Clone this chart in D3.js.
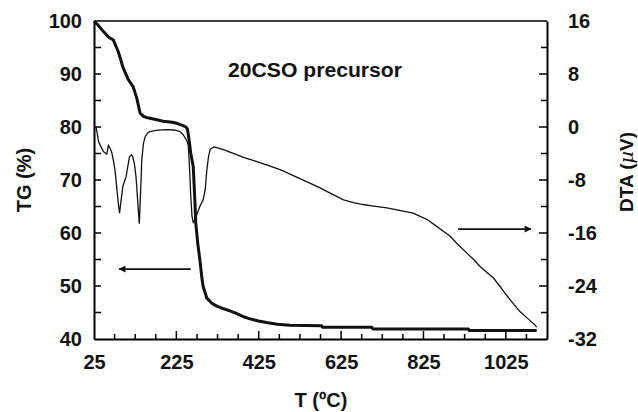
<!DOCTYPE html>
<html>
<head>
<meta charset="utf-8">
<script src="https://cdn.jsdelivr.net/npm/d3@7"></script>
<style>
  html, body { margin: 0; padding: 0; background: #fff; }
  svg { display: block; }
</style>
</head>
<body>
<svg id="canvas"></svg>
<script>
// TG curve (thick), T in ºC, mass in %
const tgTemp = [25, 35, 48, 60, 72, 84, 96, 108, 120, 129, 137, 145, 153, 175, 193, 215, 226, 240, 248, 252, 256, 260, 266, 270, 272, 277, 282, 287, 290, 299, 312, 323, 340, 355, 372, 388, 404, 424, 444, 470, 500, 578, 580, 700, 702, 934, 936, 1100]
const tgValue = [100, 99.2, 98.0, 97.0, 96.4, 94.2, 91.1, 89.0, 87.6, 85.4, 82.6, 82.0, 81.8, 81.4, 81.1, 80.9, 80.7, 80.3, 80.0, 79.6, 77.5, 75, 72.5, 66, 62, 58, 55, 51.5, 49.9, 47.7, 46.7, 46.2, 45.7, 45.3, 44.8, 44.2, 43.8, 43.4, 43.1, 42.8, 42.6, 42.5, 42.2, 42.2, 41.9, 41.9, 41.6, 41.6]

// DTA curve (thin), µV
const dtaTemp = [30, 33, 36, 42, 48, 56, 60, 64, 68, 72, 76, 80, 84, 87, 90, 95, 100, 103, 107, 111, 116, 119, 123, 127, 131, 135, 138, 141, 145, 149, 155, 161, 175, 200, 220, 234, 242, 246, 250, 254, 256, 258, 260, 263, 266, 270, 274, 282, 290, 295, 299, 303, 307, 311, 317, 323, 339, 360, 388, 415, 444, 480, 525, 574, 596, 631, 655, 679, 700, 736, 776, 800, 817, 835, 857, 875, 890, 910, 930, 950, 963, 980, 995, 1010, 1027, 1045, 1060, 1080, 1096, 1100]
const dtaValue = [0, -1.0, -2.2, -3.0, -3.7, -4.1, -2.8, -3.2, -3.8, -5.0, -6.5, -9, -11.5, -13.0, -11.5, -9.0, -8.0, -7.5, -6.0, -4.5, -4.2, -4.5, -5.5, -7.5, -11, -14.6, -10, -5.0, -2.5, -1.5, -0.9, -0.7, -0.5, -0.4, -0.45, -0.7, -1.2, -1.6, -2.0, -2.8, -5, -7.5, -10.5, -13.5, -14.4, -14.0, -13.3, -12.0, -11.0, -9.5, -6.5, -4.5, -3.4, -3.2, -3.0, -3.1, -3.4, -3.9, -4.6, -5.1, -5.7, -6.5, -7.8, -9.2, -9.9, -11.0, -11.4, -11.7, -11.9, -12.2, -12.7, -13.0, -13.5, -14.0, -15.0, -15.8, -16.5, -17.8, -19.0, -20.2, -21.1, -22.0, -22.8, -24.0, -25.4, -26.8, -27.9, -29.0, -29.9, -30.2]

const xMajorTicks = [25, 225, 425, 625, 825, 1025]
const tgTicks = [40, 50, 60, 70, 80, 90, 100]
const dtaTicks = [-32, -24, -16, -8, 0, 8, 16]

let width = 638
let height = 412
const plotLeft = 94, plotRight = 547, plotTop = 21, plotBottom = 339
const font = "'Liberation Sans', Arial, sans-serif"
const plain = d => String(d).replace('\u2212', '-')

const svg = d3.select('#canvas')
    .attr('width', width)
    .attr('height', height)

const xScale = d3.scaleLinear().domain([25, 1125]).range([plotLeft, plotRight])
const tgScale = d3.scaleLinear().domain([40, 100]).range([plotBottom, plotTop])
const dtaScale = d3.scaleLinear().domain([-32, 16]).range([plotBottom, plotTop])

function styleAxis(g) {
    g.attr('font-family', font).attr('font-size', 20).attr('font-weight', 'bold')
    g.select('.domain').attr('stroke', '#000').attr('stroke-width', 2)
    g.selectAll('.tick line').remove()
    g.selectAll('text').attr('fill', '#111')
}

// axes: labels and domain lines from d3, ticks drawn inward below
svg.append('g')
    .attr('id', 'x-axis')
    .attr('transform', 'translate(0,' + plotBottom + ')')
    .call(d3.axisBottom(xScale).tickValues(xMajorTicks).tickSizeInner(0).tickSizeOuter(0).tickPadding(16).tickFormat(plain))
    .call(styleAxis)

svg.append('g')
    .attr('id', 'y-axis')
    .attr('transform', 'translate(' + plotLeft + ',0)')
    .call(d3.axisLeft(tgScale).tickValues(tgTicks).tickSizeInner(0).tickSizeOuter(0).tickPadding(12).tickFormat(plain))
    .call(styleAxis)

svg.append('g')
    .attr('transform', 'translate(' + plotRight + ',0)')
    .call(d3.axisRight(dtaScale).tickValues(dtaTicks).tickSizeInner(0).tickSizeOuter(0).tickPadding(21).tickFormat(plain))
    .call(styleAxis)

// inward ticks
const tickG = svg.append('g').attr('stroke', '#000').attr('stroke-width', 1.5)
const xTicks = d3.range(75, 1125, 50)
tickG.selectAll('.xt').data(xTicks).enter().append('line')
    .attr('x1', d => xScale(d)).attr('x2', d => xScale(d))
    .attr('y1', plotBottom).attr('y2', d => plotBottom - (xMajorTicks.includes(d) ? 8 : 5))
tickG.selectAll('.yt').data(d3.range(45, 100, 5)).enter().append('line')
    .attr('x1', plotLeft).attr('x2', plotLeft + 7)
    .attr('y1', d => tgScale(d)).attr('y2', d => tgScale(d))
tickG.selectAll('.dt').data(d3.range(-28, 16, 4)).enter().append('line')
    .attr('x1', plotRight).attr('x2', d => plotRight - (d % 8 === 0 ? 8 : 6))
    .attr('y1', d => dtaScale(d)).attr('y2', d => dtaScale(d))

// top frame line
svg.append('line')
    .attr('x1', plotLeft).attr('x2', plotRight)
    .attr('y1', plotTop).attr('y2', plotTop)
    .attr('stroke', '#000').attr('stroke-width', 1.5)

// curves
const tgLine = d3.line()
    .x((d, i) => xScale(tgTemp[i]))
    .y(d => tgScale(d))
const dtaLine = d3.line()
    .x((d, i) => xScale(dtaTemp[i]))
    .y(d => dtaScale(d))

svg.append('path')
    .datum(dtaValue)
    .attr('d', dtaLine)
    .attr('fill', 'none')
    .attr('stroke', '#111')
    .attr('stroke-width', 1.3)

svg.append('path')
    .datum(tgValue)
    .attr('d', tgLine)
    .attr('fill', 'none')
    .attr('stroke', '#111')
    .attr('stroke-width', 3)
    .attr('stroke-linejoin', 'round')

// arrows
const defs = svg.append('defs')
defs.append('marker')
    .attr('id', 'head')
    .attr('viewBox', '0 0 10 10')
    .attr('refX', 9).attr('refY', 5)
    .attr('markerWidth', 9).attr('markerHeight', 7)
    .attr('markerUnits', 'userSpaceOnUse')
    .attr('orient', 'auto')
    .append('path')
    .attr('d', 'M0,0 L10,5 L0,10 Z')
    .attr('fill', '#111')

svg.append('line')
    .attr('x1', xScale(260)).attr('x2', xScale(86))
    .attr('y1', tgScale(53.2)).attr('y2', tgScale(53.2))
    .attr('stroke', '#111').attr('stroke-width', 1.8)
    .attr('marker-end', 'url(#head)')

svg.append('line')
    .attr('x1', xScale(909)).attr('x2', xScale(1086))
    .attr('y1', dtaScale(-15.4)).attr('y2', dtaScale(-15.4))
    .attr('stroke', '#111').attr('stroke-width', 1.8)
    .attr('marker-end', 'url(#head)')

// texts
svg.append('text')
    .attr('x', 228).attr('y', 77)
    .attr('font-family', font).attr('font-size', 20).attr('font-weight', 'bold')
    .attr('fill', '#111')
    .attr('textLength', 174).attr('lengthAdjust', 'spacingAndGlyphs')
    .text('20CSO precursor')

svg.append('text')
    .attr('x', 321).attr('y', 407)
    .attr('text-anchor', 'middle')
    .attr('font-family', font).attr('font-size', 20).attr('font-weight', 'bold')
    .attr('fill', '#111')
    .text('T (ºC)')

svg.append('text')
    .attr('transform', 'translate(31,180) rotate(-90)')
    .attr('text-anchor', 'middle')
    .attr('font-family', font).attr('font-size', 20).attr('font-weight', 'bold')
    .attr('fill', '#111')
    .text('TG (%)')

const dtaLabel = svg.append('text')
    .attr('transform', 'translate(633,172) rotate(-90)')
    .attr('text-anchor', 'middle')
    .attr('font-family', font).attr('font-size', 19).attr('font-weight', 'bold')
    .attr('fill', '#111')
dtaLabel.append('tspan').text('DTA (')
dtaLabel.append('tspan').attr('font-weight', 'normal').attr('font-family', "'DejaVu Serif', serif").attr('font-style', 'italic').text('µ')
dtaLabel.append('tspan').text('V)')
</script>
</body>
</html>
